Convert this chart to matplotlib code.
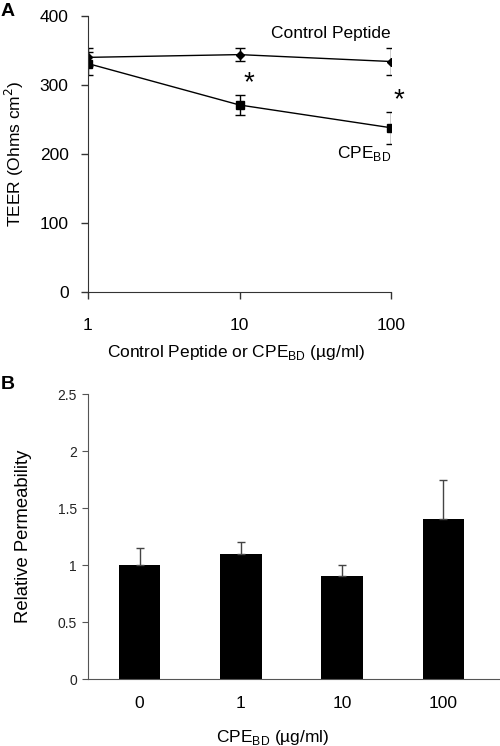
import numpy as np
import matplotlib
matplotlib.use("Agg")
import matplotlib.pyplot as plt

plt.rcParams['font.family'] = ['Liberation Sans', 'DejaVu Sans']

# panel A data
conc = [1, 10, 100]
ctrl_teer = [340, 344, 334]
ctrl_err = [13, 9, 20]
cpe_teer = [331, 271, 238]
cpe_err = [17, 15, 23]

# panel B data
b_labels = ['0', '1', '10', '100']
b_perm = [1.0, 1.1, 0.9, 1.4]
b_err = [0.15, 0.1, 0.1, 0.35]

fig = plt.figure(figsize=(5, 7.46), dpi=100)

# ---- A
ax = fig.add_axes([0.176, 0.6086, 0.606, 0.37])
ax.errorbar(conc, ctrl_teer, yerr=ctrl_err, color='black', marker='D', markersize=4,
            lw=1, capsize=3.5, elinewidth=1)
ax.errorbar(conc, cpe_teer, yerr=cpe_err, color='black', marker='s', markersize=5.5,
            lw=1, capsize=3.5, elinewidth=1)
ax.set_xscale('log')
ax.set_xlim(1, 100)
ax.set_ylim(0, 400)
ax.set_yticks([0, 100, 200, 300, 400])
ax.set_xticks(conc)
ax.set_xticklabels(['1', '10', '100'])
ax.xaxis.set_minor_locator(matplotlib.ticker.NullLocator())
ax.spines['top'].set_visible(False)
ax.spines['right'].set_visible(False)
ax.spines['left'].set_color('#333333')
ax.spines['bottom'].set_color('#333333')
ax.tick_params(labelsize=12.5, length=5, width=1, pad=9, color='#333333')
ax.tick_params(axis='x', pad=14)
ax.set_ylabel('TEER (Ohms cm$^2$)', fontsize=12.5, va='center')
ax.set_xlabel('Control Peptide or CPE$_{\\mathregular{BD}}$ (\u00b5g/ml)', fontsize=12.5, va='center')
ax.yaxis.set_label_coords(-0.242, 0.5)
ax.xaxis.set_label_coords(0.49, -0.221)
ax.text(11.5, 302, '*', fontsize=20, ha='center', va='center')
ax.text(112, 278, '*', fontsize=20, ha='center', va='center', clip_on=False)
ax.text(100, 375, 'Control Peptide', fontsize=12.5, ha='right', va='center')
ax.text(100, 201, 'CPE$_{\\mathregular{BD}}$', fontsize=12.5, ha='right', va='center')
fig.text(0.002, 0.984, 'A', fontsize=14, fontweight='bold', va='center')

# ---- B
bx = fig.add_axes([0.176, 0.0898, 0.822, 0.382])
pos = np.arange(len(b_labels))
bx.bar(pos, b_perm, width=0.41, color='black')
bx.errorbar(pos, b_perm, yerr=[np.zeros(len(b_err)), b_err], fmt='none',
            ecolor='#444444', elinewidth=1, capsize=3)
bx.set_xlim(-0.51, 3.55)
bx.set_ylim(0, 2.5)
bx.set_yticks([0, 0.5, 1, 1.5, 2, 2.5])
bx.set_yticklabels(['0', '0.5', '1', '1.5', '2', '2.5'])
bx.set_xticks(pos)
bx.set_xticklabels(b_labels)
bx.spines['top'].set_visible(False)
bx.spines['right'].set_visible(False)
for s in ['left', 'bottom']:
    bx.spines[s].set_color('#555555')
bx.tick_params(axis='y', labelsize=10, length=4, color='#555555', labelcolor='#222222', pad=4)
bx.tick_params(axis='x', labelsize=12.5, length=0, pad=12)
bx.set_ylabel('Relative Permeability', fontsize=13.3, va='center')
bx.set_xlabel('CPE$_{\\mathregular{BD}}$ (\u00b5g/ml)', fontsize=12.5, va='center')
bx.yaxis.set_label_coords(-0.158, 0.5)
bx.xaxis.set_label_coords(0.45, -0.205)
fig.text(0.002, 0.484, 'B', fontsize=14, fontweight='bold', va='center')

fig.savefig('out.png', dpi=100)
